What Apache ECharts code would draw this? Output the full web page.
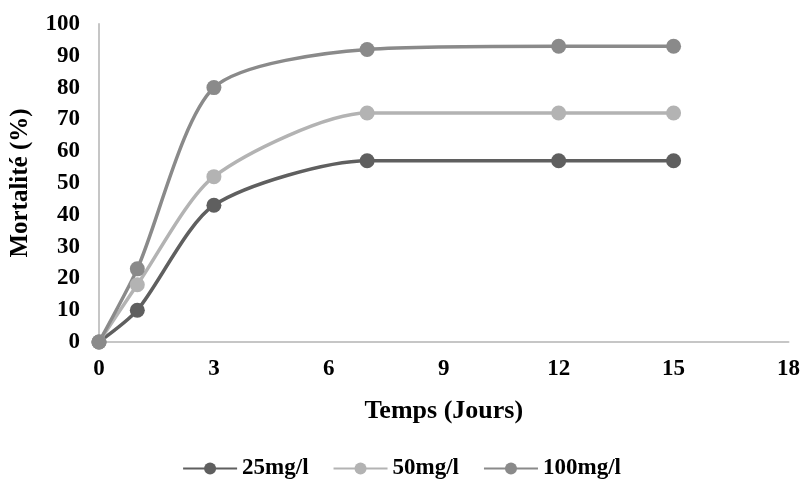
<!DOCTYPE html>
<html>
<head>
<meta charset="utf-8">
<script src="https://cdn.jsdelivr.net/npm/echarts@6/dist/echarts.min.js"></script>
<style>
  html, body { margin: 0; padding: 0; background: #fff; }
  #chart { width: 803px; height: 488px; }
</style>
</head>
<body>
<div id="chart"></div>
<script>
// jours d'observation
var jours = [0, 1, 3, 7, 12, 15];
// mortalité (%) par concentration
var mort25 = [0, 10, 43, 57, 57, 57];
var mort50 = [0, 18, 52, 72, 72, 72];
var mort100 = [0, 23, 80, 92, 93, 93];
var seriesNames = ['25mg/l', '50mg/l', '100mg/l'];
var seriesColors = ['#5f5f5f', '#b3b3b3', '#8a8a8a'];

function pairs(ys) {
  return jours.map(function (x, i) { return [x, ys[i]]; });
}

var font = '"Liberation Serif", "Times New Roman", serif';
var chart = echarts.init(document.getElementById('chart'));

var series = [mort25, mort50, mort100].map(function (ys, i) {
  return {
    name: seriesNames[i],
    type: 'line',
    data: pairs(ys),
    smooth: 0.25,
    symbol: 'circle',
    symbolSize: 15,
    lineStyle: { width: 3.5, color: seriesColors[i] },
    itemStyle: { color: seriesColors[i] }
  };
});

chart.setOption({
  animation: false,
  backgroundColor: '#fff',
  textStyle: { fontFamily: font },
  grid: { left: 99, right: 13, top: 24, bottom: 146, containLabel: false },
  legend: {
    bottom: 3,
    left: 'center',
    itemWidth: 54,
    itemHeight: 15,
    itemGap: 24,
    textStyle: { fontFamily: font, fontSize: 23, fontWeight: 'bold', color: '#000' },
    data: seriesNames
  },
  xAxis: {
    type: 'value',
    min: 0,
    max: 18,
    interval: 3,
    name: 'Temps (Jours)',
    nameLocation: 'middle',
    nameGap: 56,
    nameTextStyle: { fontFamily: font, fontSize: 26, fontWeight: 'bold', color: '#000' },
    axisLine: { show: true, lineStyle: { color: '#c6c6c6', width: 2 } },
    axisTick: { show: false },
    splitLine: { show: false },
    axisLabel: { fontFamily: font, fontSize: 23, fontWeight: 'bold', color: '#000', margin: 16 }
  },
  yAxis: {
    type: 'value',
    min: 0,
    max: 100,
    interval: 10,
    name: 'Mortalité (%)',
    nameLocation: 'middle',
    nameGap: 66,
    nameRotate: 90,
    nameTextStyle: { fontFamily: font, fontSize: 25, fontWeight: 'bold', color: '#000' },
    axisLine: { show: true, lineStyle: { color: '#c6c6c6', width: 2 } },
    axisTick: { show: false },
    splitLine: { show: false },
    axisLabel: { fontFamily: font, fontSize: 23, fontWeight: 'bold', color: '#000', margin: 19 }
  },
  series: series
});
</script>
</body>
</html>
